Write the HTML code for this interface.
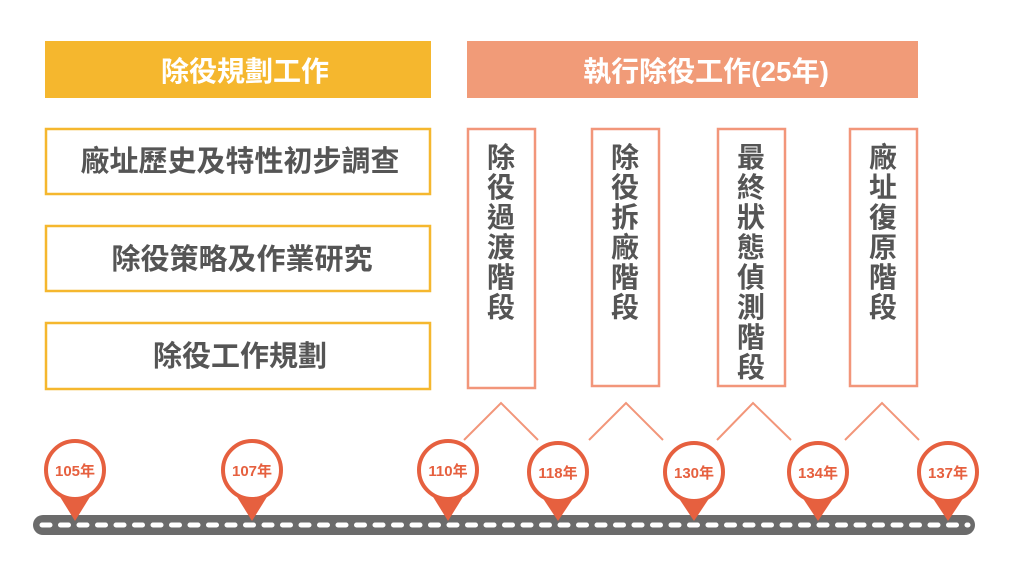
<!DOCTYPE html>
<html><head><meta charset="utf-8"><style>
body{margin:0;background:#fff;}
svg text{font-family:"Liberation Sans","Noto Sans CJK TC",sans-serif;font-weight:bold;}
</style></head><body>
<svg width="1024" height="574" viewBox="0 0 1024 574" xmlns="http://www.w3.org/2000/svg">
<rect x="45" y="41" width="386" height="57" fill="#f5b72e"/>
<text x="245" y="81" font-size="28" fill="#fff" text-anchor="middle">除役規劃工作</text>
<g fill="#fff" stroke="#f5b72e" stroke-width="2.5">
<rect x="46" y="129" width="384" height="65"/>
<rect x="46" y="226" width="384" height="65"/>
<rect x="46" y="323" width="384" height="66"/>
</g>
<g font-size="29" fill="#555" text-anchor="middle">
<text x="240" y="171">廠址歷史及特性初步調查</text>
<text x="242" y="269">除役策略及作業研究</text>
<text x="240" y="366">除役工作規劃</text>
</g>
<rect x="467" y="41" width="451" height="57" fill="#f19b78"/>
<text x="706" y="81" font-size="28" fill="#fff" text-anchor="middle">執行除役工作(25年)</text>
<g fill="#fff" stroke="#f2967a" stroke-width="2.5">
<rect x="468" y="129" width="67" height="259"/>
<rect x="592" y="129" width="67" height="257"/>
<rect x="718" y="129" width="67" height="257"/>
<rect x="850" y="129" width="67" height="257"/>
</g>
<g font-size="28" fill="#555" text-anchor="middle">
<text x="501" y="167">除</text><text x="501" y="197">役</text><text x="501" y="227">過</text><text x="501" y="257">渡</text><text x="501" y="287">階</text><text x="501" y="317">段</text>
<text x="625" y="167">除</text><text x="625" y="197">役</text><text x="625" y="227">拆</text><text x="625" y="257">廠</text><text x="625" y="287">階</text><text x="625" y="317">段</text>
<text x="751" y="167">最</text><text x="751" y="197">終</text><text x="751" y="227">狀</text><text x="751" y="257">態</text><text x="751" y="287">偵</text><text x="751" y="317">測</text><text x="751" y="347">階</text><text x="751" y="377">段</text>
<text x="883" y="167">廠</text><text x="883" y="197">址</text><text x="883" y="227">復</text><text x="883" y="257">原</text><text x="883" y="287">階</text><text x="883" y="317">段</text>
</g>
<g fill="none" stroke="#f2967a" stroke-width="2">
<polyline points="464,440 501,403 538,440"/>
<polyline points="589,440 626,403 663,440"/>
<polyline points="717,440 753,403 791,440"/>
<polyline points="845,440 882,403 919,440"/>
</g>
<rect x="33" y="515" width="942" height="20" rx="10" fill="#6b6b6b"/>
<line x1="42" y1="525" x2="968" y2="525" stroke="#fff" stroke-width="5" stroke-linecap="round" stroke-dasharray="8,10.5"/>
<g font-size="15" fill="#e6603f" text-anchor="middle">
<g transform="translate(75,0)"><path d="M-18,492 L0,521 L18,492Z" fill="#e6603f"/><circle cx="0" cy="470" r="29" fill="#fff" stroke="#e6603f" stroke-width="4"/><text x="0" y="476">105年</text></g>
<g transform="translate(252,0)"><path d="M-18,492 L0,521 L18,492Z" fill="#e6603f"/><circle cx="0" cy="470" r="29" fill="#fff" stroke="#e6603f" stroke-width="4"/><text x="0" y="476">107年</text></g>
<g transform="translate(448,0)"><path d="M-18,492 L0,521 L18,492Z" fill="#e6603f"/><circle cx="0" cy="470" r="29" fill="#fff" stroke="#e6603f" stroke-width="4"/><text x="0" y="476">110年</text></g>
<g transform="translate(558,0)"><path d="M-18,494 L0,521 L18,494Z" fill="#e6603f"/><circle cx="0" cy="472" r="29" fill="#fff" stroke="#e6603f" stroke-width="4"/><text x="0" y="478">118年</text></g>
<g transform="translate(694,0)"><path d="M-18,494 L0,521 L18,494Z" fill="#e6603f"/><circle cx="0" cy="472" r="29" fill="#fff" stroke="#e6603f" stroke-width="4"/><text x="0" y="478">130年</text></g>
<g transform="translate(818,0)"><path d="M-18,494 L0,521 L18,494Z" fill="#e6603f"/><circle cx="0" cy="472" r="29" fill="#fff" stroke="#e6603f" stroke-width="4"/><text x="0" y="478">134年</text></g>
<g transform="translate(948,0)"><path d="M-18,494 L0,521 L18,494Z" fill="#e6603f"/><circle cx="0" cy="472" r="29" fill="#fff" stroke="#e6603f" stroke-width="4"/><text x="0" y="478">137年</text></g>
</g>
</svg>
</body></html>
